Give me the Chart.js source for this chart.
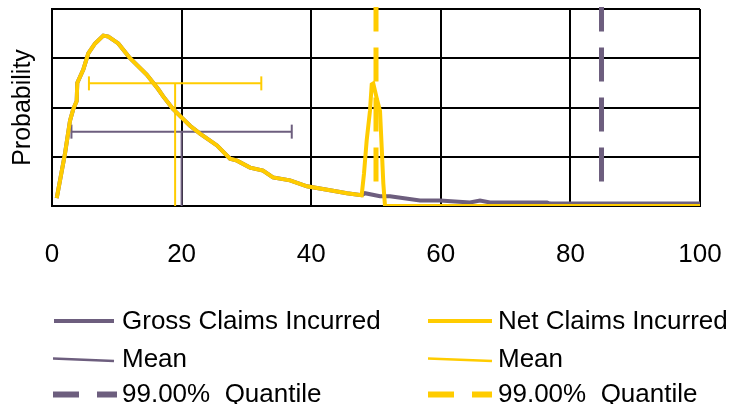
<!DOCTYPE html>
<html>
<head>
<meta charset="utf-8">
<script src="https://cdn.jsdelivr.net/npm/chart.js@4"></script>
<style>
  html, body { margin: 0; padding: 0; background: #fff; }
  #wrap { position: relative; width: 740px; height: 404px; overflow: hidden; font-family: 'Liberation Sans', Arial, sans-serif; }
  #chart { position: absolute; left: 0; top: 0; }
  #legend-lines { position: absolute; left: 0; top: 0; }
  .lg-text { position: absolute; font-size: 26px; line-height: 26px; color: #000; white-space: pre; }
</style>
</head>
<body>
<div id="wrap">
  <canvas id="chart" width="740" height="280"></canvas>
  <svg id="legend-lines" width="740" height="404"></svg>
</div>
<script>
'use strict';

const PURPLE = '#6D5E7E';
const YELLOW = '#FFCC00';

// claims distribution (x) vs probability (y, in grid units)
const netX = [0.73, 2.01, 2.78, 3.29, 3.81, 3.90, 4.83, 5.60, 6.64, 7.92, 8.69, 10.23, 12.04, 14.61, 16.40,
  17.13, 18.67, 20.22, 21.30, 22.84, 25.46, 27.47, 28.55, 30.56, 32.56, 34.10, 36.73, 39.35, 42.9, 45.52,
  47.79, 48.15, 48.56, 49.07, 49.34, 49.58, 50.11, 50.62, 50.88, 51.13, 51.39, 51.85, 60, 70, 80, 90, 100];
const netY = [0.16, 1.07, 1.73, 1.97, 2.13, 2.50, 2.77, 3.10, 3.30, 3.46, 3.44, 3.30, 3.00, 2.67, 2.37,
  2.23, 1.97, 1.77, 1.63, 1.47, 1.23, 0.96, 0.92, 0.78, 0.72, 0.58, 0.52, 0.40, 0.32, 0.26,
  0.22, 0.66, 1.33, 1.93, 2.47, 2.49, 2.19, 1.93, 1.19, 0.46, 0.00, 0.00, 0, 0, 0, 0, 0];

const grossX = [0.73, 2.01, 2.78, 3.29, 3.81, 3.90, 4.83, 5.60, 6.64, 7.92, 8.69, 10.23, 12.04, 14.61, 16.40,
  17.13, 18.67, 20.22, 21.30, 22.84, 25.46, 27.47, 28.55, 30.56, 32.56, 34.10, 36.73, 39.35, 42.9, 45.52,
  47.79, 48.3, 50.62, 52.16, 56.79, 59.88, 64.51, 66.05, 67.59, 76.39, 76.85, 88, 100];
const grossY = [0.16, 1.07, 1.73, 1.97, 2.13, 2.50, 2.77, 3.10, 3.30, 3.46, 3.44, 3.30, 3.00, 2.67, 2.37,
  2.23, 1.97, 1.77, 1.63, 1.47, 1.23, 0.96, 0.92, 0.78, 0.72, 0.58, 0.52, 0.40, 0.32, 0.26,
  0.22, 0.26, 0.20, 0.20, 0.11, 0.11, 0.07, 0.11, 0.07, 0.07, 0.05, 0.05, 0.05];

// [gross, net]
const means = [20.0, 19.0];
const stdDevs = [17.0, 13.3];
const meanBarLevels = [1.51, 2.49];
const quantile99 = [84.8, 50.0];
const quantileSpan = [0.5, 4.04];

const xTicks = [0, 20, 40, 60, 80, 100];
const yTicks = [0, 1, 2, 3, 4];

const pts = (xs, ys) => xs.map((x, i) => ({ x, y: ys[i] }));

function curve(xs, ys, color) {
  return { data: pts(xs, ys), borderColor: color, borderWidth: 4, pointRadius: 0, tension: 0, fill: false };
}
function meanLine(i, color) {
  return { data: [{ x: means[i], y: 0 }, { x: means[i], y: meanBarLevels[i] }],
    borderColor: color, borderWidth: 2, pointRadius: 0 };
}
function sdBar(i, color) {
  return { data: [{ x: means[i] - stdDevs[i], y: meanBarLevels[i] }, { x: means[i] + stdDevs[i], y: meanBarLevels[i] }],
    borderColor: color, borderWidth: 2, pointStyle: 'line', pointRotation: 90, pointRadius: 7,
    pointBorderWidth: 2, pointBorderColor: color, pointHoverRadius: 7 };
}
function quantLine(i, color) {
  return { data: [{ x: quantile99[i], y: quantileSpan[0] }, { x: quantile99[i], y: quantileSpan[1] }],
    borderColor: color, borderWidth: 5, borderDash: [34, 16], pointRadius: 0, clip: false };
}

new Chart(document.getElementById('chart'), {
  type: 'line',
  data: {
    datasets: [
      curve(netX, netY, YELLOW),
      curve(grossX, grossY, PURPLE),
      meanLine(1, YELLOW),
      sdBar(1, YELLOW),
      meanLine(0, PURPLE),
      sdBar(0, PURPLE),
      quantLine(1, YELLOW),
      quantLine(0, PURPLE),
    ],
  },
  options: {
    responsive: false,
    animation: false,
    events: [],
    layout: { padding: { left: 0, right: 40, top: 7, bottom: 0 } },
    plugins: { legend: { display: false }, tooltip: { enabled: false } },
    scales: {
      x: {
        type: 'linear',
        min: 0, max: 100,
        afterBuildTicks: s => { s.ticks = xTicks.map(v => ({ value: v })); },
        afterFit: s => { s.height = 74; s.paddingLeft = 0; s.paddingRight = 0; },
        grid: { color: '#000', lineWidth: 2, drawTicks: false },
        border: { display: true, color: '#000', width: 2 },
        ticks: { color: '#000', padding: 33, font: { family: 'Liberation Sans', size: 26 } },
      },
      y: {
        type: 'linear',
        min: 0, max: 4,
        afterBuildTicks: s => { s.ticks = yTicks.map(v => ({ value: v })); },
        afterFit: s => { s.width = 52; s.paddingTop = 0; s.paddingBottom = 0; },
        grid: { color: '#000', lineWidth: 2, drawTicks: false },
        border: { display: true, color: '#000', width: 2 },
        ticks: { display: false },
        title: { display: true, text: 'Probability', color: '#000', padding: { top: 8, bottom: 0 },
          font: { family: 'Liberation Sans', size: 25 } },
      },
    },
  },
});

// legend: two columns, three rows
const legendRows = [
  { top: 307, left: 122, text: 'Gross Claims Incurred' },
  { top: 307, left: 498, text: 'Net Claims Incurred' },
  { top: 345, left: 122, text: 'Mean' },
  { top: 345, left: 498, text: 'Mean' },
  { top: 380, left: 122, text: '99.00%  Quantile' },
  { top: 380, left: 498, text: '99.00%  Quantile' },
];
const wrap = document.getElementById('wrap');
legendRows.forEach(r => {
  const d = document.createElement('div');
  d.className = 'lg-text';
  d.style.top = r.top + 'px';
  d.style.left = r.left + 'px';
  d.textContent = r.text;
  wrap.appendChild(d);
});

const svg = document.getElementById('legend-lines');
const seg = (x1, y1, x2, y2, color, w) =>
  `<line x1="${x1}" y1="${y1}" x2="${x2}" y2="${y2}" stroke="${color}" stroke-width="${w}"/>`;
svg.innerHTML = [
  seg(54, 321, 114, 321, PURPLE, 4),
  seg(428, 321, 492, 321, YELLOW, 4),
  seg(53, 358.5, 114, 361, PURPLE, 2.5),
  seg(428, 358.5, 492, 361, YELLOW, 2.5),
  seg(53, 394.5, 79, 394.5, PURPLE, 6),
  seg(97, 394.5, 117, 394.5, PURPLE, 6),
  seg(428, 394.5, 454, 394.5, YELLOW, 6),
  seg(472, 394.5, 492, 394.5, YELLOW, 6),
].join('');
</script>
</body>
</html>
